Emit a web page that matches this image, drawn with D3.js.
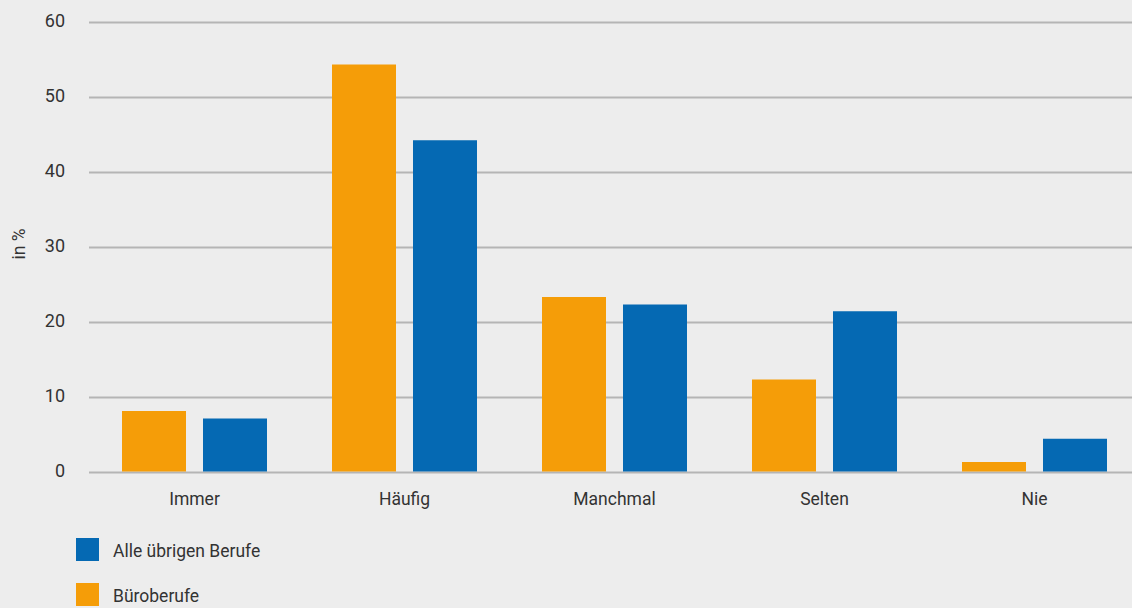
<!DOCTYPE html>
<html><head><meta charset="utf-8">
<script src="https://cdn.jsdelivr.net/npm/d3@7"></script>
<style>
html,body{margin:0;padding:0;background:#ededed;}
svg{display:block;}
text{font-family:Roboto,"Open Sans",sans-serif;font-weight:400;fill:#333;}
</style></head><body>
<svg id="c" width="1132" height="608"></svg>
<script>
const categories = ["Immer","Häufig","Manchmal","Selten","Nie"];
const seriesNames = ["Büroberufe","Alle übrigen Berufe"];
const bueroberufe = [8.2, 54.4, 23.4, 12.4, 1.4];
const uebrige = [7.2, 44.3, 22.4, 21.5, 4.5];
const yTicks = [0,10,20,30,40,50,60];
const colors = {"Büroberufe":"#f59d08","Alle übrigen Berufe":"#0569b3"};

const svg = d3.select("#c");
svg.append("rect").attr("width",1132).attr("height",608).attr("fill","#ededed");

const x = d3.scaleBand().domain(categories).range([89.5,1139.5]).paddingInner(0).paddingOuter(0);
const xs = d3.scaleBand().domain(seriesNames).range([32.5,177.5]).paddingInner(17/81).paddingOuter(0);
const y = d3.scaleLinear().domain([0,60]).range([472.5,22.5]);

// gridlines + y axis
const yAxis = d3.axisLeft(y).tickValues(yTicks).tickSize(0).tickPadding(0);
const gy = svg.append("g").attr("transform","translate(65,0)").call(yAxis);
gy.select(".domain").remove();
gy.selectAll("text").attr("font-size",18).attr("fill","#333").attr("dy","0.2em");
svg.append("g").selectAll("line").data(yTicks).join("line")
  .attr("x1",89).attr("x2",1132).attr("y1",d=>y(d)).attr("y2",d=>y(d))
  .attr("stroke","#b5b5b5").attr("stroke-width",2);

// bars
const data = categories.map((c,i)=>({c, vals:[{s:"Büroberufe",v:bueroberufe[i]},{s:"Alle übrigen Berufe",v:uebrige[i]}]}));
const g = svg.append("g").selectAll("g").data(data).join("g")
  .attr("transform",d=>`translate(${x(d.c)},0)`);
g.selectAll("rect").data(d=>d.vals).join("rect")
  .attr("x",d=>xs(d.s)).attr("width",xs.bandwidth())
  .attr("y",d=>y(d.v)).attr("height",d=>y(0)-y(d.v)-1)
  .attr("fill",d=>colors[d.s]);

// x axis labels
const xAxis = d3.axisBottom(x).tickSize(0).tickPadding(0);
const gx = svg.append("g").attr("transform","translate(0,505)").call(xAxis);
gx.select(".domain").remove();
gx.selectAll("text").attr("font-size",17.5).attr("fill","#333").attr("dy","0");

// y label
svg.append("text").attr("transform","translate(25,244) rotate(-90)")
  .attr("text-anchor","middle").attr("font-size",17.5).text("in %");

// legend
const legendOrder = ["Alle übrigen Berufe","Büroberufe"];
const lg = svg.append("g").selectAll("g").data(legendOrder).join("g")
  .attr("transform",(d,i)=>`translate(76,${538+i*45})`);
lg.append("rect").attr("width",23).attr("height",23).attr("fill",d=>colors[d]);
lg.append("text").attr("x",37).attr("y",19).attr("font-size",17.5).text(d=>d);
</script>
</body></html>
